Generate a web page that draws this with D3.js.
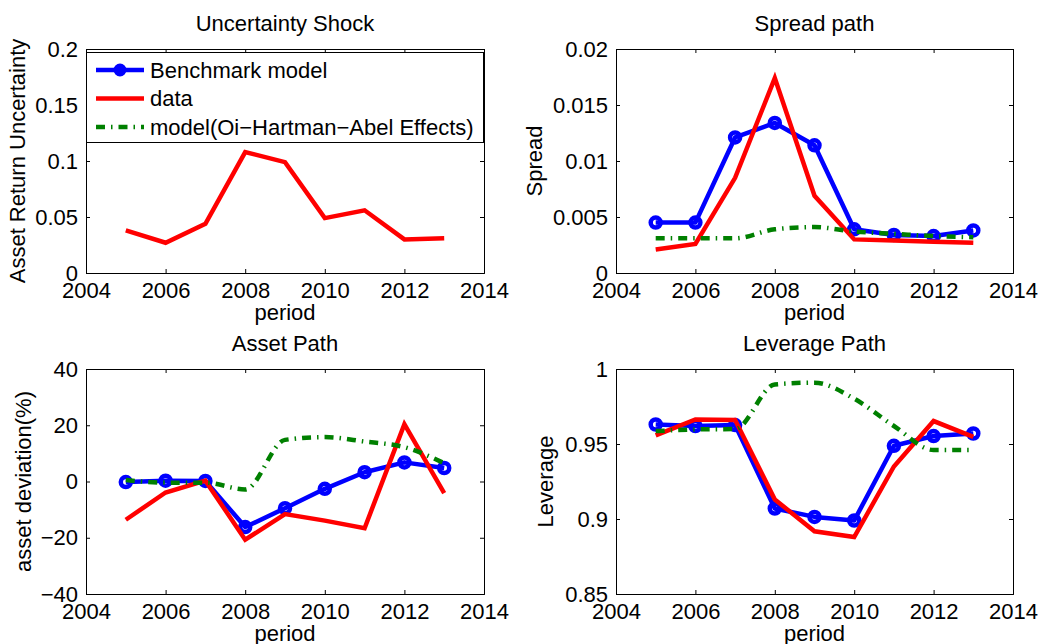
<!DOCTYPE html>
<html>
<head>
<meta charset="utf-8">
<script src="https://cdn.jsdelivr.net/npm/d3@7"></script>
<style>
  body { margin: 0; background: #fff; }
  svg { font-family: "Liberation Sans", Arial, Helvetica, sans-serif; }
</style>
</head>
<body>
<div id="container"></div>
<script>
/* DATA */
const years = [2005, 2006, 2007, 2008, 2009, 2010, 2011, 2012, 2013];
const xTicks = [2004, 2006, 2008, 2010, 2012, 2014];

const shockData = [0.038, 0.027, 0.044, 0.108, 0.099, 0.049, 0.056, 0.030, 0.031];

const spreadBench = [0.0045, 0.0045, 0.0121, 0.0134, 0.0114, 0.0039, 0.0034, 0.0033, 0.0038];
const spreadData = [0.0021, 0.0026, 0.0085, 0.0174, 0.0069, 0.0030, 0.0029, 0.0028, 0.0027];
const spreadOHA = [0.0031, 0.0031, 0.0031, 0.0039, 0.0041, 0.0037, 0.0035, 0.0033, 0.0032];

const assetBench = [-0.2, 0.3, 0.2, -16.2, -9.5, -2.6, 3.3, 6.8, 4.8];
const assetData = [-13.6, -3.9, 0.3, -20.7, -11.6, -13.9, -16.6, 20.4, -4.1];
const assetOHA = [0.5, -0.4, -0.4, -2.8, 14.8, 15.8, 14.2, 12.2, 6.5];

const levBench = [0.963, 0.962, 0.9626, 0.907, 0.9014, 0.899, 0.9488, 0.9553, 0.957];
const levData = [0.9557, 0.9664, 0.966, 0.913, 0.8918, 0.888, 0.935, 0.9653, 0.9548];
const levOHA = [0.9586, 0.9597, 0.960, 0.9897, 0.9909, 0.9802, 0.962, 0.946, 0.946];

const shockTicks = [0, 0.05, 0.1, 0.15, 0.2];
const spreadTicks = [0, 0.005, 0.01, 0.015, 0.02];
const assetTicks = [-40, -20, 0, 20, 40];
const levTicks = [0.85, 0.9, 0.95, 1];

const legendLabels = ["Benchmark model", "data", "model(Oi\u2212Hartman\u2212Abel Effects)"];

/* LAYOUT */
const width = 1040, height = 644;
const fontSize = 22;
const lineW = 4.5;
const blue = "#0000ff", red = "#ff0000", green = "#008000";
const dashDot = "9,6,1.5,6";

const panels = [
  { title: "Uncertainty Shock", ylabel: "Asset Return Uncertainty", left: 86, right: 484, top: 49, bottom: 273,
    yDomain: [0, 0.2], yTicks: shockTicks, ylabelX: 25,
    series: { data: shockData } },
  { title: "Spread path", ylabel: "Spread", left: 616, right: 1013, top: 49, bottom: 273,
    yDomain: [0, 0.02], yTicks: spreadTicks, ylabelX: 542,
    series: { bench: spreadBench, data: spreadData, oha: spreadOHA } },
  { title: "Asset Path", ylabel: "asset deviation(%)", left: 86, right: 484, top: 369, bottom: 594,
    yDomain: [-40, 40], yTicks: assetTicks, ylabelX: 31,
    series: { bench: assetBench, data: assetData, oha: assetOHA } },
  { title: "Leverage Path", ylabel: "Leverage", left: 616, right: 1013, top: 369, bottom: 594,
    yDomain: [0.85, 1], yTicks: levTicks, ylabelX: 553,
    series: { bench: levBench, data: levData, oha: levOHA } }
];

const svg = d3.select("#container")
  .append("svg")
  .attr("width", width)
  .attr("height", height);

const fmt = d3.format("~g");

panels.forEach(p => {
  const x = d3.scaleLinear().domain([2004, 2014]).range([p.left, p.right]);
  const y = d3.scaleLinear().domain(p.yDomain).range([p.bottom, p.top]);
  const g = svg.append("g");

  // white plot area
  g.append("rect")
    .attr("x", p.left).attr("y", p.top)
    .attr("width", p.right - p.left).attr("height", p.bottom - p.top)
    .attr("fill", "#fff");

  // axes (ticks inward on all four sides)
  const bottomAxis = g.append("g")
    .attr("transform", `translate(0,${p.bottom})`)
    .call(d3.axisBottom(x).tickValues(xTicks).tickSize(-4).tickPadding(10).tickFormat(d3.format("d")));
  const topAxis = g.append("g")
    .attr("transform", `translate(0,${p.top})`)
    .call(d3.axisTop(x).tickValues(xTicks).tickSize(-4).tickFormat(""));
  const leftAxis = g.append("g")
    .attr("transform", `translate(${p.left},0)`)
    .call(d3.axisLeft(y).tickValues(p.yTicks).tickSize(-4).tickPadding(8).tickFormat(fmt));
  const rightAxis = g.append("g")
    .attr("transform", `translate(${p.right},0)`)
    .call(d3.axisRight(y).tickValues(p.yTicks).tickSize(-4).tickFormat(""));

  [bottomAxis, topAxis, leftAxis, rightAxis].forEach(a => {
    a.select(".domain").attr("stroke", "#000").attr("stroke-width", 1);
    a.selectAll(".tick line").attr("stroke", "#000");
    a.selectAll(".tick text")
      .attr("fill", "#000")
      .style("font-size", fontSize + "px");
  });
  bottomAxis.selectAll(".tick text").attr("dy", null).attr("y", 25);

  // lines
  const line = d3.line().x((d, i) => x(years[i])).y(d => y(d));
  const smooth = d3.line().x((d, i) => x(years[i])).y(d => y(d)).curve(d3.curveMonotoneX);

  if (p.series.bench) {
    g.append("path")
      .datum(p.series.bench)
      .attr("d", line)
      .attr("fill", "none")
      .attr("stroke", blue)
      .attr("stroke-width", lineW)
      .attr("stroke-linejoin", "round");
    g.selectAll("circle.mk")
      .data(p.series.bench)
      .join("circle")
      .attr("class", "mk")
      .attr("cx", (d, i) => x(years[i]))
      .attr("cy", d => y(d))
      .attr("r", 5)
      .attr("fill", "none")
      .attr("stroke", blue)
      .attr("stroke-width", 4.5);
  }
  if (p.series.data) {
    g.append("path")
      .datum(p.series.data)
      .attr("d", line)
      .attr("fill", "none")
      .attr("stroke", red)
      .attr("stroke-width", lineW)
      .attr("stroke-linejoin", "miter");
  }
  if (p.series.oha) {
    g.append("path")
      .datum(p.series.oha)
      .attr("d", smooth)
      .attr("fill", "none")
      .attr("stroke", green)
      .attr("stroke-width", lineW)
      .attr("stroke-dasharray", dashDot);
  }

  // title
  svg.append("text")
    .attr("x", (p.left + p.right) / 2)
    .attr("y", p.top - 18)
    .attr("text-anchor", "middle")
    .style("font-size", fontSize + "px")
    .text(p.title);

  // x label
  svg.append("text")
    .attr("x", (p.left + p.right) / 2)
    .attr("y", p.bottom + 47)
    .attr("text-anchor", "middle")
    .style("font-size", fontSize + "px")
    .text("period");

  // y label
  svg.append("text")
    .attr("transform", `translate(${p.ylabelX},${(p.top + p.bottom) / 2}) rotate(-90)`)
    .attr("text-anchor", "middle")
    .style("font-size", fontSize + "px")
    .text(p.ylabel);
});

/* LEGEND (first panel) */
const lg = svg.append("g");
lg.append("rect")
  .attr("x", 86.5).attr("y", 52.5)
  .attr("width", 397).attr("height", 90)
  .attr("fill", "#fff")
  .attr("stroke", "#000")
  .attr("stroke-width", 1);

const legendStyles = [
  { color: blue, dash: null, marker: true },
  { color: red, dash: null, marker: false },
  { color: green, dash: dashDot, marker: false }
];
const legendY = d3.scalePoint().domain(legendLabels).range([70, 127]);

legendLabels.forEach((label, i) => {
  const s = legendStyles[i];
  const ly = legendY(label);
  lg.append("line")
    .attr("x1", 96).attr("x2", 144)
    .attr("y1", ly).attr("y2", ly)
    .attr("stroke", s.color)
    .attr("stroke-width", lineW)
    .attr("stroke-dasharray", s.dash);
  if (s.marker) {
    lg.append("circle")
      .attr("cx", 120).attr("cy", ly).attr("r", 5)
      .attr("fill", s.color)
      .attr("stroke", s.color)
      .attr("stroke-width", 3);
  }
  lg.append("text")
    .attr("x", 150)
    .attr("y", ly)
    .attr("dy", "0.35em")
    .style("font-size", fontSize + "px")
    .text(label);
});
</script>
</body>
</html>
